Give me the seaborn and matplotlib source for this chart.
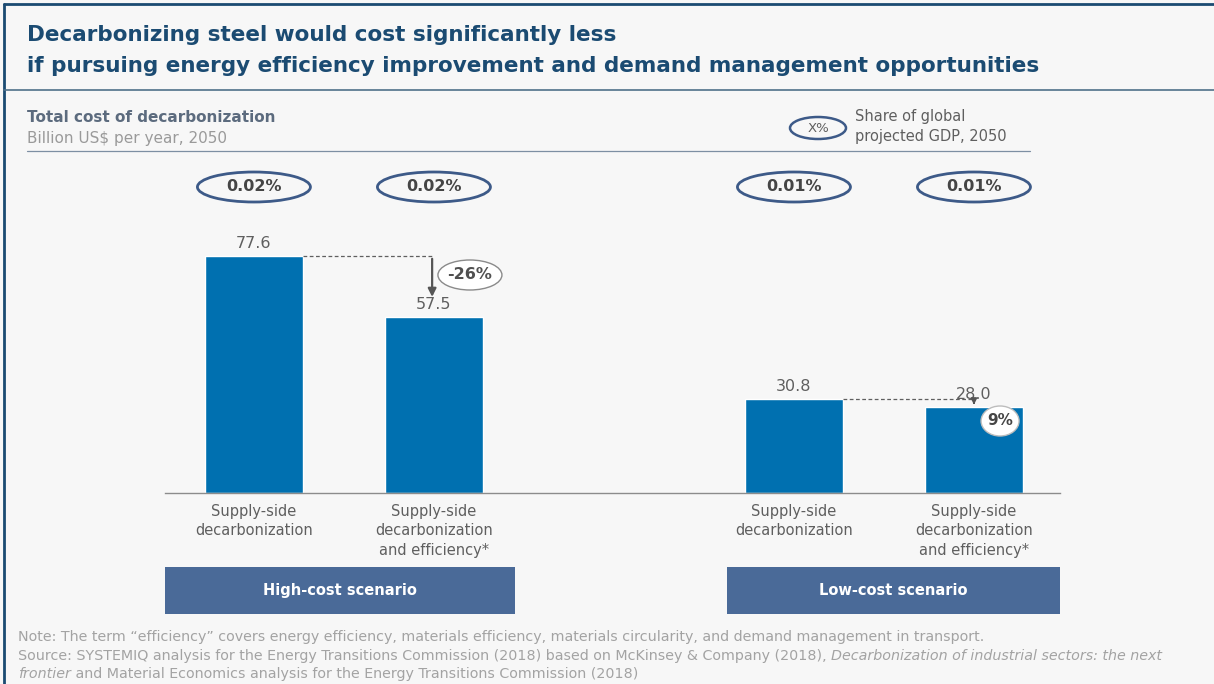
import numpy as np
import pandas as pd
import matplotlib
matplotlib.use("Agg")
import matplotlib.pyplot as plt
from matplotlib.patches import Ellipse, Rectangle
import seaborn as sns

# data
categories = ["Supply-side\ndecarbonization",
              "Supply-side\ndecarbonization\nand efficiency*",
              "Supply-side\ndecarbonization",
              "Supply-side\ndecarbonization\nand efficiency*"]
positions = [0, 1, 3, 4]
costs = [77.6, 57.5, 30.8, 28.0]
gdp_share = ["0.02%", "0.02%", "0.01%", "0.01%"]
reductions = ["-26%", "9%"]
scenarios = ["High-cost scenario", "Low-cost scenario"]

BG = "#f7f7f7"
BAR = "#0070b0"
DARK = "#1b4b72"
GREY = "#5f5f5f"
OVAL = "#3d5a88"
BOX = "#4a6a98"
FONT = ["DejaVu Sans"]

sns.set_theme(style="white")
plt.rcParams["font.family"] = FONT

W, H = 1214, 684
fig = plt.figure(figsize=(W / 100, H / 100), dpi=100, facecolor=BG)


def fx(px):
    return px / W


def fy(py):
    return 1 - py / H


# frame and header rules
fig.add_artist(plt.Line2D([fx(4), fx(4)], [fy(4), fy(684)], color=DARK, lw=2))
fig.add_artist(plt.Line2D([fx(4), 1], [fy(4), fy(4)], color=DARK, lw=2))
fig.add_artist(plt.Line2D([fx(4), 1], [fy(90), fy(90)], color="#4f7189", lw=1.2))
fig.add_artist(plt.Line2D([fx(27), fx(1030)], [fy(151), fy(151)], color="#7d8fa3", lw=0.9))

fig.text(fx(27), fy(35), "Decarbonizing steel would cost significantly less",
         fontsize=15.5, fontweight="bold", color=DARK, va="center")
fig.text(fx(27), fy(66), "if pursuing energy efficiency improvement and demand management opportunities",
         fontsize=15.5, fontweight="bold", color=DARK, va="center")
fig.text(fx(27), fy(117), "Total cost of decarbonization",
         fontsize=11, fontweight="bold", color="#5c6b7e", va="center")
fig.text(fx(27), fy(138), "Billion US$ per year, 2050",
         fontsize=11, color="#9a9a9a", va="center")

# legend oval
ax_over = fig.add_axes([0, 0, 1, 1], facecolor="none")
ax_over.set_xlim(0, W)
ax_over.set_ylim(H, 0)
ax_over.axis("off")
ax_over.add_patch(Ellipse((818, 128), 56, 22, fc="none", ec=OVAL, lw=1.8))
ax_over.text(818, 128, "X%", ha="center", va="center", fontsize=9.5, color=GREY)
ax_over.text(855, 117, "Share of global", va="center", fontsize=10.5, color=GREY)
ax_over.text(855, 136, "projected GDP, 2050", va="center", fontsize=10.5, color=GREY)

# main bar axes: baseline at y=493 px, 3.054 px per unit
px_per_unit = 3.054
ax_top, ax_bot = 150, 493
ax = fig.add_axes([fx(165), fy(ax_bot), fx(1060 - 165), (ax_bot - ax_top) / H])
ax.set_facecolor("none")

df = pd.DataFrame({"pos": positions, "cost": costs})
sns.barplot(data=df, x="pos", y="cost", native_scale=True, width=0.545,
            color=BAR, saturation=1, ax=ax)
ax.set_xlim(-0.494, 4.478)
ax.set_ylim(0, (ax_bot - ax_top) / px_per_unit)
for s in ["top", "right", "left"]:
    ax.spines[s].set_visible(False)
ax.spines["bottom"].set_color("#8c8c8c")
ax.spines["bottom"].set_linewidth(1)
ax.set_xticks(positions)
ax.set_xticklabels(categories, fontsize=10.5, color=GREY, linespacing=1.35, va="top")
ax.tick_params(axis="x", length=0, pad=8)
ax.set_yticks([])
ax.set_xlabel("")
ax.set_ylabel("")


def ydata(py):
    return (ax_bot - py) / px_per_unit


for p, c, g in zip(positions, costs, gdp_share):
    ax.text(p, c + 4.2, f"{c:.1f}", ha="center", va="center", fontsize=11.5, color=GREY)
    ax.add_patch(Ellipse((p, ydata(187)), 113 / 180, 30 / px_per_unit,
                         fc="none", ec=OVAL, lw=2, clip_on=False))
    ax.text(p, ydata(187), g, ha="center", va="center", fontsize=11.5,
            fontweight="bold", color="#454545", clip_on=False)

half = 0.545 / 2
# high-cost reduction marker
ax.plot([positions[0] + half, 0.99], [costs[0], costs[0]], ls=(0, (3, 2)), color=GREY, lw=0.9)
ax.annotate("", xy=(0.99, costs[0] - 14.3), xytext=(0.99, costs[0]),
            arrowprops=dict(arrowstyle="-|>", color="#555555", lw=1.6, mutation_scale=12))
ax.add_patch(Ellipse((1.2, ydata(275)), 64 / 180, 30 / px_per_unit,
                     fc="white", ec="#8a8a8a", lw=1))
ax.text(1.2, ydata(275), reductions[0], ha="center", va="center", fontsize=11.5,
        fontweight="bold", color="#505050")

# low-cost reduction marker
ax.plot([positions[2] + half, 4.0], [costs[2], costs[2]], ls=(0, (3, 2)), color=GREY, lw=0.9)
ax.annotate("", xy=(4.0, costs[3]), xytext=(4.0, costs[2]),
            arrowprops=dict(arrowstyle="-|>", color="#555555", lw=1.4, mutation_scale=8))
ax.add_patch(Ellipse((4.145, ydata(421)), 38 / 180, 30 / px_per_unit,
                     fc="white", ec="#bdbdbd", lw=1))
ax.text(4.145, ydata(421), reductions[1], ha="center", va="center", fontsize=11,
        fontweight="bold", color="#454545")

# scenario boxes
for (x0, x1), label in zip([(165, 515), (727, 1060)], scenarios):
    ax_over.add_patch(Rectangle((x0, 567), x1 - x0, 47, fc=BOX, ec="none"))
    ax_over.text((x0 + x1) / 2, 590.5, label, ha="center", va="center",
                 fontsize=10.5, fontweight="bold", color="white")

# notes with mixed italics
NOTE = "#a3a3a3"
nfs = 10.3
ax_over.text(18, 637, "Note: The term \u201cefficiency\u201d covers energy efficiency, materials efficiency, "
             "materials circularity, and demand management in transport.",
             va="center", fontsize=nfs, color=NOTE)

fig.canvas.draw()
renderer = fig.canvas.get_renderer()
inv = ax_over.transData.inverted()


def run(pieces, y):
    x = 18
    for txt, style in pieces:
        t = ax_over.text(x, y, txt, va="center", fontsize=nfs, color=NOTE, style=style)
        bb = t.get_window_extent(renderer)
        x = inv.transform((bb.x1, bb.y0))[0]


run([("Source: SYSTEMIQ analysis for the Energy Transitions Commission (2018) based on McKinsey & Company (2018), ", "normal"),
     ("Decarbonization of industrial sectors: the next", "italic")], 656)
run([("frontier", "italic"),
     (" and Material Economics analysis for the Energy Transitions Commission (2018)", "normal")], 674)

fig.savefig("out.png", dpi=100, facecolor=BG)
